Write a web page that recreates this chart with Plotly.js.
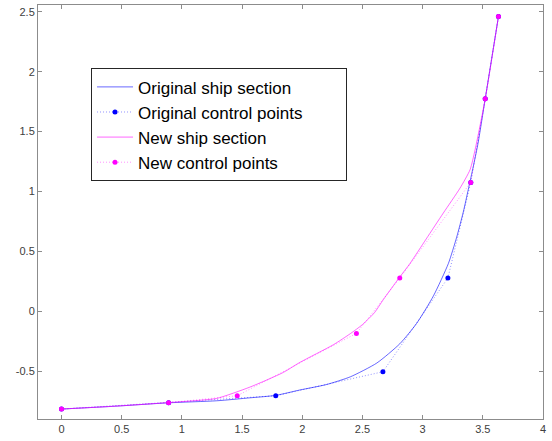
<!DOCTYPE html>
<html>
<head>
<meta charset="utf-8">
<script src="https://cdn.plot.ly/plotly-3.0.1.min.js"></script>
<style>html,body{margin:0;padding:0;background:#fff;}#chart{width:552px;height:441px;}</style>
</head>
<body>
<div id="chart"></div>
<script>
// Control points
const origCtrlX = [0, 0.89, 1.78, 2.67, 3.21, 3.40, 3.52, 3.63];
const origCtrlY = [-0.814, -0.761, -0.703, -0.503, 0.279, 1.076, 1.774, 2.46];
const newCtrlX = [0, 0.89, 1.46, 2.45, 2.81, 3.40, 3.52, 3.63];
const newCtrlY = [-0.814, -0.761, -0.703, -0.183, 0.279, 1.076, 1.774, 2.46];

// Curves
const origCurveX = [0, 0.45, 0.89, 1.29, 1.57, 1.78, 1.98, 2.2, 2.40, 2.62, 2.81, 2.95, 3.09, 3.214, 3.283, 3.338, 3.38, 3.421, 3.46, 3.52, 3.63];
const origCurveY = [-0.814, -0.79, -0.762, -0.745, -0.72, -0.70, -0.655, -0.61, -0.545, -0.43, -0.27, -0.10, 0.13, 0.40, 0.62, 0.83, 1.02, 1.21, 1.40, 1.774, 2.46];
const newCurveX = [0, 0.45, 0.89, 1.1, 1.29, 1.565, 1.842, 1.98, 2.258, 2.40, 2.50, 2.60, 2.673, 2.804, 2.895, 3.03, 3.172, 3.311, 3.394, 3.436, 3.52, 3.63];
const newCurveY = [-0.814, -0.79, -0.76, -0.745, -0.725, -0.631, -0.509, -0.425, -0.278, -0.185, -0.11, -0.01, 0.098, 0.279, 0.40, 0.605, 0.821, 1.029, 1.182, 1.349, 1.774, 2.46];

const xTicks = [0, 0.5, 1, 1.5, 2, 2.5, 3, 3.5, 4];
const yTicks = [-0.5, 0, 0.5, 1, 1.5, 2, 2.5];

const blue = '#0000ff';
const mag = '#ff00ff';
const pad = '\u00a0\u00a0\u00a0\u00a0\u00a0\u00a0\u00a0\u00a0';

const traces = [
  {x: origCurveX, y: origCurveY, mode: 'lines', name: 'Original ship section',
   line: {color: blue, width: 0.8, shape: 'spline', smoothing: 0.6}, opacity: 0.75},
  {x: origCtrlX, y: origCtrlY, mode: 'lines+markers', name: 'Original control points' + pad,
   line: {color: 'rgba(0,0,255,0.55)', width: 0.8, dash: '1px,2px'}, marker: {color: blue, size: 5}},
  {x: newCurveX, y: newCurveY, mode: 'lines', name: 'New ship section',
   line: {color: mag, width: 0.8, shape: 'spline', smoothing: 0.6}, opacity: 0.75},
  {x: newCtrlX, y: newCtrlY, mode: 'lines+markers', name: 'New control points',
   line: {color: 'rgba(255,0,255,0.55)', width: 0.8, dash: '1px,2px'}, marker: {color: mag, size: 5}}
];

const axisCommon = {
  showgrid: false, zeroline: false, showline: true, mirror: 'ticks',
  linecolor: '#8c8c8c', linewidth: 1, ticks: 'inside', ticklen: 4, tickwidth: 1,
  tickcolor: '#8c8c8c', tickfont: {family: 'Liberation Sans, Arial, sans-serif', size: 11, color: '#404040'}
};

const layout = {
  width: 552, height: 441,
  margin: {l: 38, r: 9, t: 5, b: 22},
  paper_bgcolor: '#ffffff', plot_bgcolor: '#ffffff',
  showlegend: true,
  legend: {x: 0.105, y: 0.847, xanchor: 'left', yanchor: 'top',
    bgcolor: '#ffffff', bordercolor: '#262626', borderwidth: 1,
    font: {family: 'Liberation Sans, Arial, sans-serif', size: 17, color: '#000000'},
    tracegroupgap: 0, itemwidth: 36},
  xaxis: Object.assign({}, axisCommon, {range: [-0.195, 4], tickvals: xTicks, ticktext: xTicks.map(String)}),
  yaxis: Object.assign({}, axisCommon, {range: [-0.897, 2.556], tickvals: yTicks, ticktext: yTicks.map(String)})
};

Plotly.newPlot('chart', traces, layout, {displayModeBar: false, staticPlot: true});
</script>
</body>
</html>
